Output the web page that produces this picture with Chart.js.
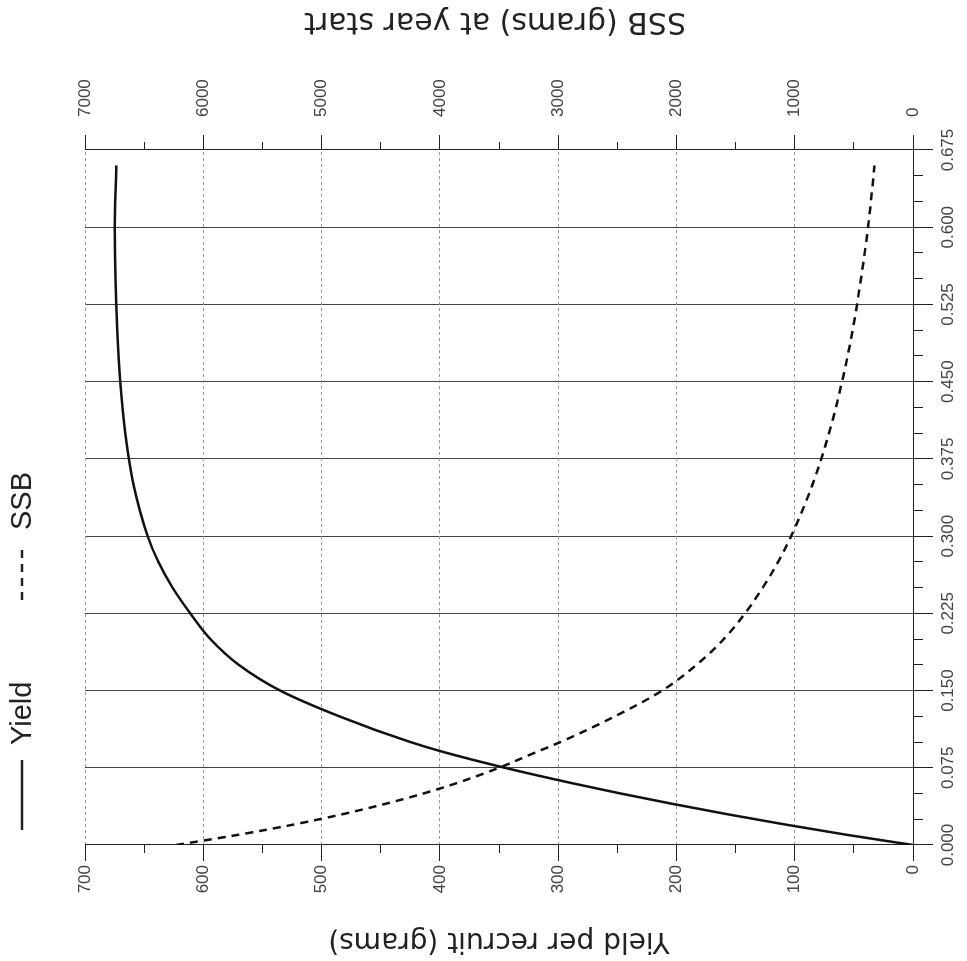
<!DOCTYPE html>
<html>
<head>
<meta charset="utf-8">
<script src="https://cdn.jsdelivr.net/npm/chart.js@4.4.1/dist/chart.umd.min.js"></script>
<style>
    html, body { margin: 0; padding: 0; background: #fff; overflow: hidden; }
    #wrap { position: relative; width: 967px; height: 961px; }
    /* the plot was scanned lying on its side, so draw it upright and turn it */
    #chart {
        position: absolute; left: 0; top: 0;
        transform-origin: 0 0;
        transform: translate(0, 961px) rotate(-90deg);
    }
</style>
</head>
<body>
<div id="wrap"><canvas id="chart" width="961" height="967"></canvas></div>
<script>
const fishingMortality = [0, 0.01, 0.02, 0.03, 0.04, 0.05, 0.06, 0.075, 0.09, 0.1, 0.125, 0.15, 0.175, 0.2, 0.225, 0.25, 0.275, 0.3, 0.35, 0.4, 0.45, 0.5, 0.55, 0.6, 0.66];
const yieldPerRecruit = [0, 56.5, 108.5, 157.5, 203.5, 247, 288, 345, 396, 425, 485, 535, 570, 594, 611, 626, 638, 647, 659, 666, 670.25, 672.75, 674.25, 674.75, 673.5];
const ssbYearStart = [6230, 5700, 5230, 4820, 4460, 4140, 3860, 3500, 3190, 2980, 2520, 2120, 1830, 1600, 1420, 1270, 1140, 1030, 850, 710, 600, 510, 440, 380, 325];
const seriesNames = ["Yield", "SSB"];
const axisTitles = ["Yield per recruit (grams)", "SSB (grams) at year start"];

const tickFont = { family: '"Liberation Sans", Arial, sans-serif', size: 17 };
const titleFont = { family: '"DejaVu Sans", sans-serif', size: 28 };
const inkColor = "#222";
const tickColor = "#444";

const toPoints = (ys) => fishingMortality.map((f, i) => ({ x: f, y: ys[i] }));

// legend + right hand title (chart.js only turns right titles the other way)
const sideText = {
    id: "sideText",
    afterDraw(chart) {
        const ctx = chart.ctx;
        const area = chart.chartArea;
        ctx.save();
        ctx.fillStyle = inkColor;
        ctx.strokeStyle = inkColor;
        ctx.textBaseline = "middle";
        ctx.font = '29px "Liberation Sans", Arial, sans-serif';

        const starts = [131, 361];
        const lens = [70, 55];
        chart.data.datasets.forEach((ds, i) => {
            ctx.lineWidth = ds.borderWidth;
            ctx.setLineDash(ds.borderDash || []);
            ctx.beginPath();
            ctx.moveTo(starts[i], 22);
            ctx.lineTo(starts[i] + lens[i], 22);
            ctx.stroke();
            ctx.fillText(ds.label, starts[i] + lens[i] + 15, 23);
        });

        ctx.setLineDash([]);
        ctx.font = "30px " + titleFont.family;
        ctx.textAlign = "center";
        ctx.translate(chart.width - 21, (area.top + area.bottom) / 2 - 4);
        ctx.rotate(-Math.PI / 2);
        ctx.fillText(axisTitles[1], 0, 0);
        ctx.restore();
    },
};

new Chart(document.getElementById("chart"), {
    type: "line",
    data: {
        datasets: [
            {
                label: seriesNames[0],
                data: toPoints(yieldPerRecruit),
                yAxisID: "y",
                borderColor: "#111",
                borderWidth: 2.5,
                pointRadius: 0,
                cubicInterpolationMode: "monotone",
            },
            {
                label: seriesNames[1],
                data: toPoints(ssbYearStart),
                yAxisID: "y2",
                borderColor: "#111",
                borderWidth: 2.5,
                borderDash: [8, 6],
                pointRadius: 0,
                cubicInterpolationMode: "monotone",
            },
        ],
    },
    options: {
        responsive: false,
        animation: false,
        layout: { padding: { top: 85, left: 0, right: 0, bottom: 0 } },
        plugins: { legend: { display: false }, tooltip: { enabled: false } },
        scales: {
            // short minor ticks sit next to the plot, the major axes stack outside them
            xMinor: {
                type: "linear", position: "bottom", min: 0, max: 0.675, weight: 0,
                ticks: { display: false, stepSize: 0.025 },
                grid: { drawOnChartArea: false, tickLength: 10, tickColor: inkColor },
                border: { color: inkColor },
                afterFit: (s) => { s.height = 10; },
            },
            x: {
                type: "linear", position: "bottom", min: 0, max: 0.675, weight: 1,
                ticks: {
                    stepSize: 0.075, autoSkip: false, maxRotation: 0, padding: 5,
                    font: tickFont, color: tickColor,
                    callback: (v) => v.toFixed(3),
                },
                grid: { color: "#444", tickLength: 10, tickColor: inkColor },
                border: { display: false },
                afterFit: (s) => { s.height = 44; },
            },
            yMinor: {
                type: "linear", position: "left", min: 0, max: 700, weight: 0,
                ticks: { display: false, stepSize: 50 },
                grid: { drawOnChartArea: false, tickLength: 8, tickColor: inkColor },
                border: { color: inkColor },
                afterFit: (s) => { s.width = 8; },
            },
            y: {
                type: "linear", position: "left", min: 0, max: 700, weight: 1,
                ticks: { stepSize: 100, padding: 4, font: tickFont, color: tickColor },
                grid: { color: "#999", tickLength: 8, tickColor: inkColor },
                border: { display: false, dash: [3, 3] },
                title: { display: true, text: axisTitles[0], font: titleFont, color: inkColor },
                afterFit: (s) => { s.width = 108; },
            },
            y2Minor: {
                type: "linear", position: "right", min: 0, max: 7000, weight: 0,
                ticks: { display: false, stepSize: 500 },
                grid: { drawOnChartArea: false, tickLength: 8, tickColor: inkColor },
                border: { color: inkColor },
                afterFit: (s) => { s.width = 8; },
            },
            y2: {
                type: "linear", position: "right", min: 0, max: 7000, weight: 1,
                ticks: {
                    stepSize: 1000, padding: 18, font: tickFont, color: tickColor,
                    callback: (v) => String(v),
                },
                grid: { drawOnChartArea: false, tickLength: 7, tickColor: inkColor },
                border: { display: false },
                afterFit: (s) => { s.width = 142; },
            },
        },
    },
    plugins: [sideText],
});
</script>
</body>
</html>
